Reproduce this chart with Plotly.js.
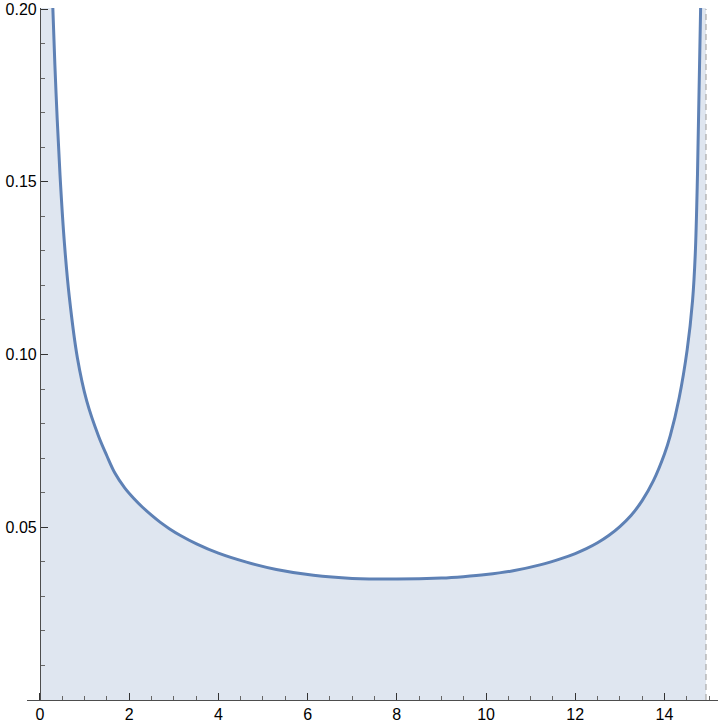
<!DOCTYPE html>
<html>
<head>
<meta charset="utf-8">
<script src="https://cdn.plot.ly/plotly-3.0.1.min.js"></script>
<style>
  html, body { margin: 0; padding: 0; background: #ffffff; }
  #plot { width: 723px; height: 725px; }
</style>
</head>
<body>
<div id="plot"></div>
<script>
// Curve (values past 0.20 are clipped estimates)
const curveX = [0.005, 0.01, 0.1, 0.2, 0.29, 0.36, 0.45, 0.55, 0.66, 0.84, 1.05, 1.31, 1.5, 1.68, 1.9, 2.1,
  2.3, 2.5, 2.7, 2.9, 3.14, 3.51, 4.0, 4.63, 5.3, 6.13, 7.0, 8.0, 9.0, 9.49, 10.0, 10.61, 11.21, 11.7,
  12.0, 12.25, 12.5, 12.75, 13.0, 13.25, 13.5, 13.75, 14.0, 14.13, 14.33, 14.51, 14.63, 14.69, 14.74,
  14.81, 14.88, 14.92, 14.93];
const curveY = [1.5, 1.07, 0.34, 0.24, 0.2, 0.176, 0.152, 0.132, 0.1165, 0.0990, 0.0865, 0.0765, 0.0707,
  0.0657, 0.0614, 0.0584, 0.0558, 0.0535, 0.0514, 0.0496, 0.0477, 0.0452, 0.0425, 0.0399, 0.0378, 0.0361,
  0.0352, 0.0350, 0.0353, 0.0357, 0.0363, 0.0374, 0.0391, 0.0410, 0.0424, 0.0438, 0.0455, 0.0476, 0.0502,
  0.0534, 0.0577, 0.0634, 0.0712, 0.0765, 0.0875, 0.1015, 0.1157, 0.129, 0.152, 0.2, 0.30, 0.68, 1.5];

// Dashed boundary on the right
const edgeX = [14.93, 14.93];
const edgeY = [0, 0.2];

const X_TICKS = [0, 2, 4, 6, 8, 10, 12, 14];
const Y_TICKS = [0.05, 0.10, 0.15, 0.20];
const Y_LABELS = ['0.05', '0.10', '0.15', '0.20'];

const LINE_COLOR = '#5e81b5';
const FILL_COLOR = '#dfe6f0';
const AXIS_COLOR = '#4d4d4d';

const TICK_FONT = {family: 'Liberation Sans, Arial, sans-serif', size: 16, color: '#000000'};

let curveTrace = {
  x: curveX,
  y: curveY,
  mode: 'lines',
  line: {color: LINE_COLOR, width: 3, shape: 'spline', smoothing: 1},
  fill: 'tozeroy',
  fillcolor: FILL_COLOR,
  hoverinfo: 'skip',
  showlegend: false
};

let edgeTrace = {
  x: edgeX,
  y: edgeY,
  mode: 'lines',
  line: {color: '#b8b8b8', width: 1.5, dash: '6px,4px'},
  hoverinfo: 'skip',
  showlegend: false
};

// plot area spans pixels 27..718, y axis sits at x = 0 (pixel 40)
const X_RANGE = [-0.29, 15.2];

const layout = {
  width: 723,
  height: 725,
  margin: {l: 27, r: 5, t: 8, b: 25},
  paper_bgcolor: '#ffffff',
  plot_bgcolor: '#ffffff',
  showlegend: false,
  xaxis: {
    range: X_RANGE,
    tickmode: 'array',
    tickvals: X_TICKS,
    ticks: 'inside',
    ticklen: 7,
    tickwidth: 1,
    tickcolor: '#333333',
    minor: {dtick: 0.5, tick0: 0, ticks: 'inside', ticklen: 4.5, tickcolor: '#666666', showgrid: false},
    showline: true,
    linecolor: AXIS_COLOR,
    linewidth: 1,
    showgrid: false,
    zeroline: false,
    tickfont: TICK_FONT,
    fixedrange: true
  },
  yaxis: {
    range: [0, 0.2003],
    anchor: 'free',
    position: (0 - X_RANGE[0]) / (X_RANGE[1] - X_RANGE[0]),
    tickmode: 'array',
    tickvals: Y_TICKS,
    ticktext: Y_LABELS,
    ticks: 'inside',
    ticklen: 7,
    tickwidth: 1,
    tickcolor: '#333333',
    minor: {dtick: 0.01, tick0: 0, ticks: 'inside', ticklen: 4.5, tickcolor: '#666666', showgrid: false},
    showline: true,
    linecolor: AXIS_COLOR,
    linewidth: 1,
    showgrid: false,
    zeroline: false,
    tickfont: TICK_FONT,
    fixedrange: true
  }
};

Plotly.newPlot('plot', [curveTrace, edgeTrace], layout, {displayModeBar: false, staticPlot: true});
</script>
</body>
</html>
